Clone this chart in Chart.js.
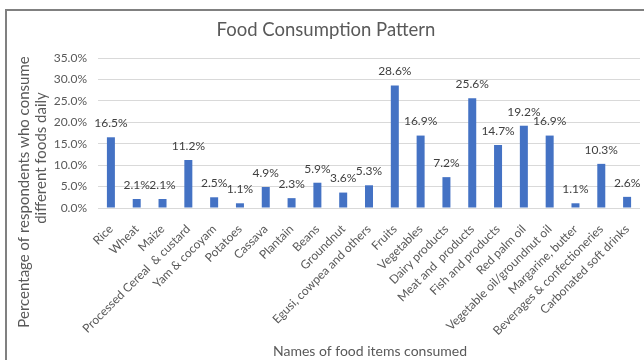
<!DOCTYPE html>
<html>
<head>
<meta charset="utf-8">
<script src="https://cdn.jsdelivr.net/npm/chart.js@4/dist/chart.umd.min.js"></script>
<style>
  html, body { margin: 0; padding: 0; background: #fff; }
  #wrap { width: 644px; height: 360px; position: relative; }
</style>
</head>
<body>
<div id="wrap"><canvas id="c" width="644" height="360"></canvas></div>
<script>
const categories = [
  "Rice", "Wheat", "Maize", "Processed Cereal  & custard", "Yam & cocoyam",
  "Potatoes", "Cassava", "Plantain", "Beans", "Groundnut",
  "Egusi, cowpea and others", "Fruits", "Vegetables", "Dairy products",
  "Meat and  products", "Fish and products", "Red palm oil",
  "Vegetable oil/groundnut oil", "Margarine, butter",
  "Beverages & confectioneries", "Carbonated soft drinks"
];
const values = [16.5, 2.1, 2.1, 11.2, 2.5, 1.1, 4.9, 2.3, 5.9, 3.6, 5.3,
                28.6, 16.9, 7.2, 25.6, 14.7, 19.2, 16.9, 1.1, 10.3, 2.6];
const yTicks = [0, 5, 10, 15, 20, 25, 30, 35];
const chartTitle = "Food Consumption Pattern";
const yTitleLines = ["Percentage of respondents who consume", "different foods daily"];
const xTitle = "Names of food items consumed";

const FONT = "Lato";
const TEXT = "#595959";

const decor = {
  id: "decor",
  beforeDraw(chart) {
    const ctx = chart.ctx;
    ctx.save();
    ctx.fillStyle = "#fff";
    ctx.fillRect(0, 0, chart.width, chart.height);
    ctx.strokeStyle = "#808080";
    ctx.lineWidth = 2;
    ctx.beginPath();
    ctx.moveTo(6, 360);
    ctx.lineTo(6, 10);
    ctx.lineTo(644, 10);
    ctx.stroke();
    ctx.restore();
  },
  afterDraw(chart) {
    const ctx = chart.ctx;
    ctx.save();
    ctx.fillStyle = TEXT;
    ctx.textAlign = "center";
    ctx.textBaseline = "middle";
    ctx.font = "18.5px " + FONT;
    ctx.fillText(chartTitle, 326, 30);
    ctx.font = "14px " + FONT;
    ctx.fillText(xTitle, 370, 351);
    ctx.font = "15px " + FONT;
    ctx.save();
    ctx.translate(24, 192);
    ctx.rotate(-Math.PI / 2);
    ctx.fillText(yTitleLines[0], 0, 0);
    ctx.restore();
    ctx.translate(41, 158);
    ctx.rotate(-Math.PI / 2);
    ctx.fillText(yTitleLines[1], 0, 0);
    ctx.restore();
  },
  afterDatasetsDraw(chart) {
    const ctx = chart.ctx;
    const meta = chart.getDatasetMeta(0);
    ctx.save();
    ctx.fillStyle = "#404040";
    ctx.font = "12px " + FONT;
    ctx.textAlign = "center";
    ctx.textBaseline = "middle";
    meta.data.forEach((bar, i) => {
      ctx.fillText(values[i].toFixed(1) + "%", bar.x, bar.y - 14);
    });
    ctx.restore();
  }
};

new Chart(document.getElementById("c"), {
  type: "bar",
  data: {
    labels: categories,
    datasets: [{
      data: values,
      backgroundColor: "#4472C4",
      borderWidth: 0,
      barPercentage: 0.62,
      categoryPercentage: 0.5
    }]
  },
  options: {
    responsive: false,
    animation: false,
    devicePixelRatio: 1,
    layout: { padding: { top: 58, right: 4, bottom: 0, left: 0 } },
    plugins: {
      legend: { display: false },
      title: { display: false },
      tooltip: { enabled: false }
    },
    scales: {
      x: {
        grid: { display: false },
        border: { display: false },
        ticks: {
          color: TEXT,
          font: { family: FONT, size: 12 },
          minRotation: 45,
          maxRotation: 45,
          autoSkip: false,
          padding: 6
        },
        afterFit(scale) { scale.height = 152; }
      },
      y: {
        min: 0,
        max: 35,
        afterBuildTicks(scale) { scale.ticks = yTicks.map(v => ({ value: v })); },
        grid: { color: "#d9d9d9", drawTicks: false, lineWidth: 1 },
        border: { display: false },
        ticks: {
          color: TEXT,
          font: { family: FONT, size: 12 },
          padding: 11,
          callback: v => Number(v).toFixed(1) + "%"
        },
        afterFit(scale) { scale.width = 98; }
      }
    }
  },
  plugins: [decor]
});
</script>
</body>
</html>
